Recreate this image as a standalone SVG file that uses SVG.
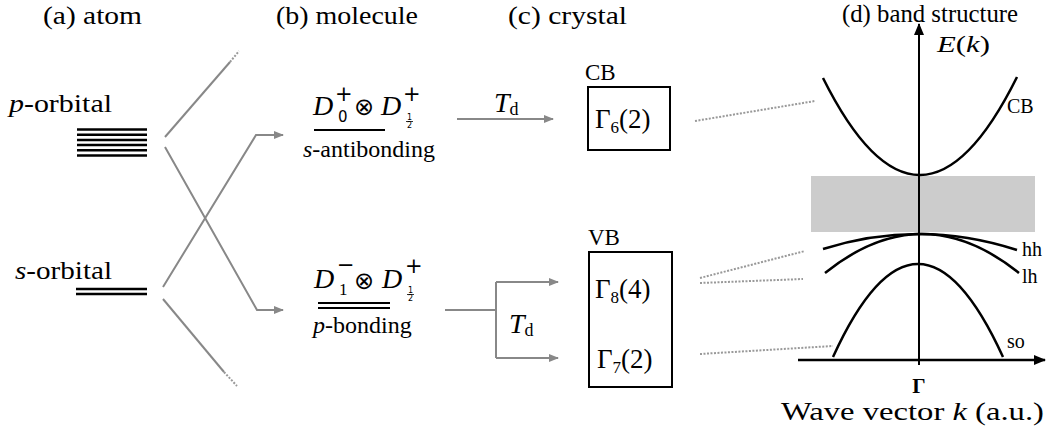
<svg xmlns="http://www.w3.org/2000/svg" width="1046" height="432" viewBox="0 0 1046 432">
<style>
text{font-family:'Liberation Serif','Times New Roman',serif;fill:#000}
.t{font-size:26px}
.m{font-size:24px}
.s{font-size:20px}
.i{font-style:italic}
.sans{font-family:'DejaVu Sans','Liberation Sans',sans-serif}
.g{stroke:#888;stroke-width:2;fill:none}
.dot{stroke:#999;stroke-width:2;fill:none;stroke-dasharray:2 1.5}
.k{stroke:#000;fill:none}
</style>
<defs>
<marker id="ga" markerWidth="10" markerHeight="8" refX="9" refY="4" orient="auto" markerUnits="userSpaceOnUse">
<path d="M0,0 L10,4 L0,8 Z" fill="#888"/>
</marker>
<marker id="ka" markerWidth="12" markerHeight="10" refX="11" refY="5" orient="auto" markerUnits="userSpaceOnUse">
<path d="M0,0 L12,5 L0,10 Z" fill="#000"/>
</marker>
</defs>

<g id="titles">
<text class="t" x="43" y="24" textLength="99" lengthAdjust="spacingAndGlyphs">(a) atom</text>
<text class="t" x="276" y="24" textLength="142" lengthAdjust="spacingAndGlyphs">(b) molecule</text>
<text class="t" x="508" y="24" textLength="119" lengthAdjust="spacingAndGlyphs">(c) crystal</text>
<text class="t" x="842" y="22" textLength="176" lengthAdjust="spacingAndGlyphs">(d) band structure</text>
</g>

<g id="p-orbital">
<text class="t" x="9" y="112" textLength="103" lengthAdjust="spacingAndGlyphs"><tspan class="i">p</tspan>-orbital</text>
<g class="k" stroke-width="2.5">
<line x1="77" y1="129.5" x2="147" y2="129.5"/>
<line x1="77" y1="134.7" x2="147" y2="134.7"/>
<line x1="77" y1="139.9" x2="147" y2="139.9"/>
<line x1="77" y1="145.1" x2="147" y2="145.1"/>
<line x1="77" y1="150.3" x2="147" y2="150.3"/>
<line x1="77" y1="155.5" x2="147" y2="155.5"/>
</g>
</g>

<g id="s-orbital">
<text class="t" x="15" y="279" textLength="97" lengthAdjust="spacingAndGlyphs"><tspan class="i">s</tspan>-orbital</text>
<g class="k" stroke-width="2.5">
<line x1="76" y1="289" x2="147" y2="289"/>
<line x1="76" y1="294" x2="147" y2="294"/>
</g>
</g>

<g id="s-antibonding">
<text class="i" font-size="28" x="313" y="115">D</text>
<text class="sans" font-size="21" x="335" y="101">+</text>
<text class="sans" font-size="15" x="338" y="122">0</text>
<text class="sans" font-size="24" x="354" y="115">⊗</text>
<text class="i" font-size="28" x="381" y="115">D</text>
<text class="sans" font-size="21" x="403" y="101">+</text>
<text class="sans" font-size="8" x="407" y="120">1</text>
<line x1="406" y1="121.5" x2="413" y2="121.5" stroke="#000" stroke-width="0.8"/>
<text class="sans" font-size="8" x="407" y="128">2</text>
<line x1="314" y1="130" x2="385" y2="130" stroke="#000" stroke-width="2"/>
<text class="m" x="303" y="157"><tspan class="i">s</tspan>-antibonding</text>
</g>

<g id="p-bonding">
<text class="i" font-size="28" x="314" y="288">D</text>
<text class="sans" font-size="21" x="337" y="272">−</text>
<text x="339" y="295" font-size="17">1</text>
<text class="sans" font-size="24" x="354" y="289">⊗</text>
<text class="i" font-size="28" x="382" y="288">D</text>
<text class="sans" font-size="21" x="405" y="273">+</text>
<text class="sans" font-size="8" x="408" y="293">1</text>
<line x1="407" y1="294.5" x2="414" y2="294.5" stroke="#000" stroke-width="0.8"/>
<text class="sans" font-size="8" x="408" y="301">2</text>
<line x1="318" y1="303" x2="390" y2="303" stroke="#000" stroke-width="2"/>
<line x1="318" y1="308" x2="390" y2="308" stroke="#000" stroke-width="2"/>
<text class="m" x="313" y="333"><tspan class="i">p</tspan>-bonding</text>
</g>

<g id="CB">
<text font-size="23" x="585" y="80">CB</text>
<rect x="588" y="87" width="82" height="63" class="k" stroke-width="2"/>
<text font-size="27" x="595" y="128">Γ<tspan font-size="17" dy="5">6</tspan><tspan dy="-5">(2)</tspan></text>
</g>

<g id="VB">
<text font-size="23" x="588" y="245">VB</text>
<rect x="589" y="252" width="83" height="135" class="k" stroke-width="2"/>
<text font-size="27" x="595" y="298">Γ<tspan font-size="17" dy="5">8</tspan><tspan dy="-5">(4)</tspan></text>
<text font-size="27" x="597" y="368">Γ<tspan font-size="17" dy="5">7</tspan><tspan dy="-5">(2)</tspan></text>
</g>

<g id="band-structure">
<rect x="811" y="176" width="224" height="56" fill="#cccccc"/>
<line x1="919" y1="365" x2="919" y2="24" class="k" stroke-width="2" marker-end="url(#ka)"/>
<line x1="798" y1="360" x2="1045" y2="360" class="k" stroke-width="2.5" marker-end="url(#ka)"/>
<path d="M823,78 Q920,272.5 1017,77" class="k" stroke-width="2.5"/>
<path d="M823,249 Q920,218.5 1017,250" class="k" stroke-width="2.5"/>
<path d="M825,273 Q922,195 1019,273" class="k" stroke-width="2.5"/>
<path d="M833,357 Q918,171 1003,357" class="k" stroke-width="2.5"/>
<text font-size="24" x="937" y="52" textLength="53" lengthAdjust="spacingAndGlyphs"><tspan class="i">E</tspan>(<tspan class="i">k</tspan>)</text>
<text class="s" x="1007" y="113">CB</text>
<text class="s" x="1022" y="256">hh</text>
<text class="s" x="1022" y="283">lh</text>
<text class="s" x="1007" y="348">so</text>
<text x="919" y="393" font-size="21" font-weight="bold" text-anchor="middle">Γ</text>
<text class="t" x="781" y="420" textLength="263" lengthAdjust="spacingAndGlyphs">Wave vector <tspan class="i">k</tspan> (a.u.)</text>
</g>

<g id="connectors">
<path d="M165,137 L230,62" class="g"/>
<path d="M230,62 L239,51" class="dot"/>
<path d="M165,147 L257,310 L283,310" class="g" marker-end="url(#ga)"/>
<path d="M163,287 L256,135 L283,135" class="g" marker-end="url(#ga)"/>
<path d="M163,299 L224,372" class="g"/>
<path d="M224,372 L237,386" class="dot"/>
<path d="M457,119 L553,119" class="g" marker-end="url(#ga)"/>
<text font-size="28" x="494" y="112"><tspan class="i">T</tspan><tspan font-size="18" dy="3">d</tspan></text>
<path d="M445,310 L496,310" class="g"/>
<path d="M496,282 L496,358" class="g"/>
<path d="M496,282 L558,282" class="g" marker-end="url(#ga)"/>
<path d="M496,358 L558,358" class="g" marker-end="url(#ga)"/>
<text font-size="28" x="509" y="333"><tspan class="i">T</tspan><tspan font-size="18" dy="3">d</tspan></text>
<path d="M695,121 L815,101" class="dot"/>
<path d="M700,278 L805,251" class="dot"/>
<path d="M700,283 L803,279" class="dot"/>
<path d="M700,354 L833,346" class="dot"/>
</g>
</svg>
